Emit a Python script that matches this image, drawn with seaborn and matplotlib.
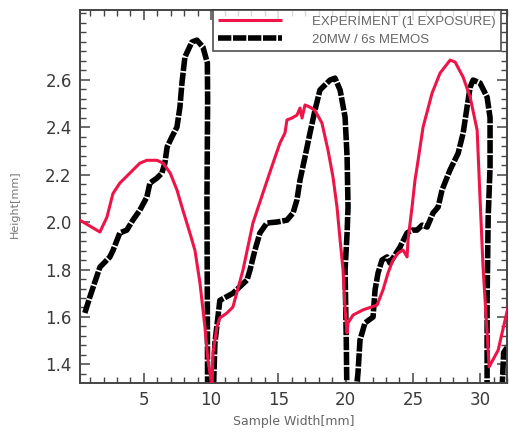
import numpy as np
import pandas as pd
import matplotlib
matplotlib.use("Agg")
import matplotlib.pyplot as plt
from matplotlib.ticker import MultipleLocator
import seaborn as sns

# ---- data ----
exp_x = [0.24, 1.73, 2.25, 2.70, 3.21, 3.96, 4.70, 5.22, 5.97, 6.43, 6.96, 7.46, 7.90,
         8.42, 8.80, 9.17, 9.54, 9.76, 9.99, 10.06, 10.14, 10.43, 10.65, 11.18, 11.62,
         12.37, 13.11, 13.85, 14.60, 15.12, 15.49, 15.64, 16.01, 16.38, 16.61, 16.76,
         16.98, 17.35, 17.72, 18.24, 18.69, 19.06, 19.36, 19.59, 19.81, 19.96, 20.11,
         20.18, 20.55, 21.29, 22.34, 22.78, 23.15, 23.52, 23.90, 24.27, 24.57, 24.64,
         24.94, 25.16, 25.31, 25.76, 26.43, 27.02, 27.77, 28.14, 28.74, 29.26, 29.78,
         30.0, 30.22, 30.52, 30.67, 31.34, 32.08]
exp_y = [2.008, 1.958, 2.020, 2.120, 2.164, 2.206, 2.248, 2.260, 2.260, 2.248, 2.206,
         2.135, 2.050, 1.954, 1.880, 1.743, 1.558, 1.420, 1.335, 1.300, 1.450, 1.558,
         1.596, 1.617, 1.642, 1.798, 1.996, 2.122, 2.248, 2.333, 2.375, 2.430, 2.438,
         2.450, 2.480, 2.438, 2.493, 2.484, 2.470, 2.417, 2.303, 2.190, 2.063, 1.924,
         1.798, 1.630, 1.533, 1.575, 1.608, 1.630, 1.650, 1.714, 1.785, 1.840, 1.869,
         1.882, 1.853, 1.924, 2.063, 2.177, 2.230, 2.400, 2.543, 2.627, 2.682, 2.674,
         2.610, 2.526, 2.387, 2.093, 1.810, 1.533, 1.390, 1.460, 1.642]

memos_x = [0.61, 0.98, 1.73, 2.47, 2.70, 3.21, 3.73, 4.18, 4.70, 5.22, 5.45, 5.97,
           6.34, 6.56, 6.73, 7.08, 7.46, 7.68, 7.83, 8.05, 8.57, 8.94, 9.39, 9.72,
           9.74, 9.69, 9.72, 9.74, 10.15, 10.28, 10.65, 11.62, 12.67, 12.89, 13.26,
           13.63, 14.15, 14.90, 15.64, 16.09, 16.38, 16.61, 16.98, 17.35, 17.72, 18.09,
           18.84, 19.21, 19.59, 19.96, 20.11, 20.18, 20.11, 19.96, 20.05, 20.10, 20.70,
           20.92, 21.07, 21.44, 22.04, 22.19, 22.41, 22.71, 23.08, 23.30, 23.52, 24.05,
           24.57, 24.94, 25.31, 25.69, 26.06, 26.50, 26.88, 27.17, 27.77, 28.37, 28.74,
           29.03, 29.26, 29.48, 30.00, 30.52, 30.74, 30.74, 30.60, 30.52, 30.52, 31.60,
           31.75, 32.10]
memos_y = [1.617, 1.684, 1.810, 1.853, 1.880, 1.954, 1.966, 2.008, 2.050, 2.105, 2.164,
           2.185, 2.206, 2.248, 2.316, 2.358, 2.400, 2.484, 2.585, 2.695, 2.758, 2.766,
           2.737, 2.670, 2.514, 2.093, 1.600, 1.250, 1.250, 1.490, 1.670, 1.700, 1.756,
           1.798, 1.882, 1.954, 1.996, 2.000, 2.008, 2.038, 2.093, 2.177, 2.274, 2.375,
           2.470, 2.556, 2.598, 2.606, 2.556, 2.442, 2.274, 2.063, 1.954, 1.798, 1.500,
           1.250, 1.250, 1.364, 1.503, 1.575, 1.600, 1.714, 1.785, 1.840, 1.853, 1.827,
           1.848, 1.895, 1.954, 1.966, 1.966, 1.987, 1.979, 2.038, 2.063, 2.135, 2.220,
           2.290, 2.375, 2.484, 2.568, 2.598, 2.585, 2.526, 2.440, 2.230, 2.020, 1.670,
           1.250, 1.250, 1.450, 1.480]

labels = ["EXPERIMENT (1 EXPOSURE)", "20MW / 6s MEMOS"]
x_ticks = [5, 10, 15, 20, 25, 30]
y_ticks = [1.4, 1.6, 1.8, 2.0, 2.2, 2.4, 2.6]

sns.set_theme(style="white")
plt.rcParams['font.family'] = ['DejaVu Sans']

fig = plt.figure(figsize=(5.10, 4.37), dpi=100)
ax = fig.add_axes([80/510, 54/437, 427/510, 373/437])

red = "#ee1448"
df_exp = pd.DataFrame({"x": exp_x, "y": exp_y})
df_mem = pd.DataFrame({"x": memos_x, "y": memos_y})

sns.lineplot(data=df_exp, x="x", y="y", sort=False, estimator=None, ax=ax,
             color=red, linewidth=2.2, label=labels[0], zorder=3)
sns.lineplot(data=df_mem, x="x", y="y", sort=False, estimator=None, ax=ax,
             color="black", linewidth=4.0, linestyle=(0, (2.4, 0.3)),
             label=labels[1], zorder=2)
for ln in ax.get_lines():
    ln.set_solid_capstyle("butt")
    ln.set_dash_capstyle("butt")
    ln.set_solid_joinstyle("round")
    ln.set_dash_joinstyle("round")

ax.set_xlim(0.25, 32.0)
ax.set_ylim(1.322, 2.893)
ax.set_xticks(x_ticks)
ax.set_xticklabels([str(t) for t in x_ticks])
ax.set_yticks(y_ticks)
ax.set_yticklabels([f"{t:.1f}" for t in y_ticks])
ax.xaxis.set_minor_locator(MultipleLocator(1))
ax.yaxis.set_minor_locator(MultipleLocator(0.04))

tick_col = "#444444"
ax.tick_params(which="both", direction="in", top=True, right=True,
               bottom=True, left=True, color=tick_col)
ax.tick_params(which="major", length=7, width=1.1, labelsize=12,
               labelcolor="#3a3a3a", pad=6)
ax.tick_params(which="minor", length=4, width=1.0)
for s in ax.spines.values():
    s.set_color("#444444")
    s.set_linewidth(1.4)

ax.set_xlabel("Sample Width[mm]", fontsize=9, color="#666666")
ax.set_ylabel("Height[mm]", fontsize=8, color="#777777")
ax.xaxis.set_label_coords(0.5, -0.085)
ax.yaxis.set_label_coords(-0.14, 0.48)

leg = ax.legend(loc="upper right", bbox_to_anchor=(0.986, 1.0), borderaxespad=0,
                frameon=True, fancybox=False, handlelength=4.8, handletextpad=2.3,
                borderpad=0.4, labelspacing=0.45,
                prop={"family": ["Liberation Sans", "DejaVu Sans"], "size": 9.5})
leg.get_frame().set_edgecolor("#333333")
leg.get_frame().set_linewidth(1.3)
for t in leg.get_texts():
    t.set_color("#666666")

fig.savefig("out.png", dpi=100)
